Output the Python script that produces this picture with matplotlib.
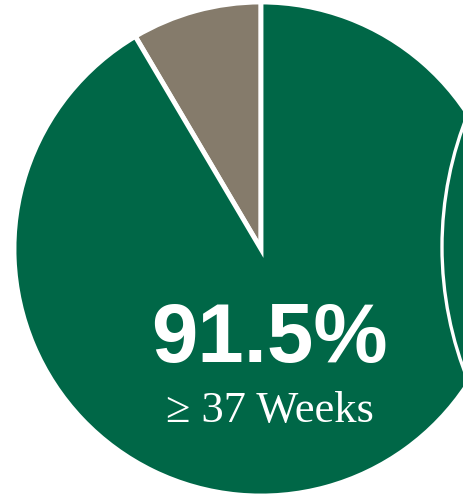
import matplotlib
matplotlib.use("Agg")
import matplotlib.pyplot as plt
from matplotlib.patches import Circle

# data
labels = ["< 37 Weeks", "≥ 37 Weeks"]
shares = [8.5, 91.5]
colors = ["#857B6B", "#006747"]
big_label = "91.5%"
sub_label = "≥ 37 Weeks"

fig = plt.figure(figsize=(4.64, 4.95), dpi=100)
ax = fig.add_axes([0, 0, 1, 1])

# pie is larger than the canvas, cut off on the right
ax.pie(shares, colors=colors, startangle=90, counterclock=True,
       center=(261, 246), radius=247, frame=True,
       wedgeprops=dict(edgecolor="white", linewidth=3.5))
ax.set_xlim(0, 464)
ax.set_ylim(0, 495)
ax.set_aspect("equal")
ax.axis("off")

# edge of the neighbouring chart peeking in from the right
ax.add_patch(Circle((797, 248), 355, fill=False, edgecolor="white", linewidth=2.4))

ax.text(269, 495 - 340, big_label, color="white", fontsize=60, fontweight="bold",
        family=["Liberation Sans", "DejaVu Sans"], ha="center", va="center")
ax.text(270, 495 - 411, sub_label, color="white", fontsize=32,
        family=["Liberation Serif", "DejaVu Serif"], ha="center", va="center")

fig.savefig("out.png", dpi=100)
plt.close(fig)
